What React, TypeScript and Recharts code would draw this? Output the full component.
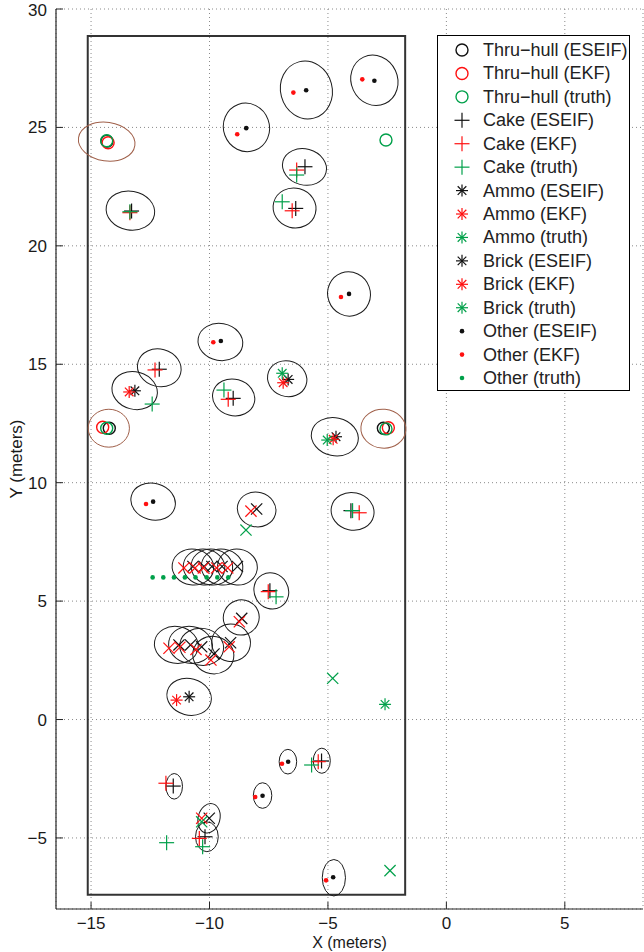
import React from 'react';
import { ScatterChart, Scatter, XAxis, YAxis, CartesianGrid, ReferenceArea } from 'recharts';

// ---------- axes ----------
const X_DOMAIN: [number, number] = [-16.48, 8.3];
const Y_DOMAIN: [number, number] = [-8, 30];
const X_TICKS = [-15, -10, -5, 0, 5];
const Y_TICKS = [-5, 0, 5, 10, 15, 20, 25, 30];
const X_LABEL = 'X (meters)';
const Y_LABEL = 'Y (meters)';

// survey area boundary (meters)
const BOUNDARY = { x1: -15.14, x2: -1.74, y1: -7.4, y2: 28.86 };

// ---------- data ----------
type P = { x: number; y: number };
type E = { x: number; y: number; rx: number; ry: number; a: number };

const thruEseif: P[] = [
  { x: -14.33, y: 24.42 }, { x: -14.23, y: 12.3 }, { x: -2.66, y: 12.3 },
];
const thruEkf: P[] = [
  { x: -14.28, y: 24.35 }, { x: -14.51, y: 12.34 }, { x: -2.45, y: 12.32 },
];
const thruTruth: P[] = [
  { x: -14.34, y: 24.44 }, { x: -14.34, y: 12.3 }, { x: -2.55, y: 12.27 }, { x: -2.55, y: 24.47 },
];

const cakeEseif: P[] = [
  { x: -5.97, y: 23.34 }, { x: -6.36, y: 21.58 }, { x: -13.29, y: 21.47 }, { x: -12.12, y: 14.79 },
  { x: -9.0, y: 13.56 }, { x: -4.03, y: 8.82 }, { x: -7.45, y: 5.44 }, { x: -5.27, y: -1.75 },
  { x: -11.53, y: -2.81 }, { x: -10.19, y: -4.95 },
];
const cakeEkf: P[] = [
  { x: -6.32, y: 23.2 }, { x: -6.51, y: 21.48 }, { x: -13.36, y: 21.4 }, { x: -12.3, y: 14.76 },
  { x: -9.21, y: 13.52 }, { x: -3.68, y: 8.73 }, { x: -7.52, y: 5.4 }, { x: -5.41, y: -1.78 },
  { x: -11.84, y: -2.69 }, { x: -10.43, y: -5.02 },
];
const cakeTruth: P[] = [
  { x: -13.36, y: 21.44 }, { x: -6.32, y: 22.99 }, { x: -6.93, y: 21.86 }, { x: -12.42, y: 13.32 },
  { x: -9.39, y: 13.91 }, { x: -3.96, y: 8.82 }, { x: -7.19, y: 5.18 }, { x: -5.69, y: -1.92 },
  { x: -10.29, y: -5.37 }, { x: -11.81, y: -5.2 },
];

const ammoEseif: P[] = [
  { x: -13.15, y: 13.88 }, { x: -6.68, y: 14.36 }, { x: -4.66, y: 11.94 }, { x: -10.86, y: 0.96 },
];
const ammoEkf: P[] = [
  { x: -13.39, y: 13.83 }, { x: -6.89, y: 14.22 }, { x: -4.78, y: 11.83 }, { x: -11.39, y: 0.82 },
];
const ammoTruth: P[] = [
  { x: -6.93, y: 14.62 }, { x: -5.03, y: 11.8 }, { x: -2.59, y: 0.64 },
];

const brickEseif: P[] = [
  { x: -8.01, y: 8.89 }, { x: -8.64, y: 4.27 }, { x: -10.01, y: -4.17 },
  { x: -10.7, y: 6.46 }, { x: -10.23, y: 6.46 }, { x: -9.9, y: 6.46 }, { x: -9.47, y: 6.46 }, { x: -8.82, y: 6.46 },
  { x: -11.29, y: 3.15 }, { x: -10.8, y: 3.15 }, { x: -10.33, y: 3.07 }, { x: -9.81, y: 2.77 }, { x: -9.11, y: 3.24 },
];
const brickEkf: P[] = [
  { x: -8.25, y: 8.8 }, { x: -8.74, y: 4.13 }, { x: -10.33, y: -4.17 },
  { x: -11.08, y: 6.4 }, { x: -10.61, y: 6.4 }, { x: -10.26, y: 6.4 }, { x: -9.7, y: 6.4 }, { x: -9.23, y: 6.4 },
  { x: -11.71, y: 3.01 }, { x: -11.25, y: 3.05 }, { x: -10.57, y: 2.96 }, { x: -9.94, y: 2.51 }, { x: -9.17, y: 3.07 },
];
const brickTruth: P[] = [
  { x: -8.46, y: 8.0 }, { x: -4.8, y: 1.74 }, { x: -2.38, y: -6.38 }, { x: -10.33, y: -4.32 },
];

const otherEseif: P[] = [
  { x: -3.04, y: 26.97 }, { x: -5.92, y: 26.57 }, { x: -8.45, y: 24.97 }, { x: -4.11, y: 17.97 },
  { x: -9.52, y: 15.98 }, { x: -12.38, y: 9.2 }, { x: -6.68, y: -1.78 }, { x: -7.76, y: -3.22 },
  { x: -4.78, y: -6.66 },
];
const otherEkf: P[] = [
  { x: -3.55, y: 27.03 }, { x: -6.46, y: 26.47 }, { x: -8.83, y: 24.71 }, { x: -4.45, y: 17.84 },
  { x: -9.84, y: 15.93 }, { x: -12.68, y: 9.1 }, { x: -6.94, y: -1.87 }, { x: -8.07, y: -3.27 },
  { x: -5.08, y: -6.79 },
];
const otherTruth: P[] = [
  { x: -12.4, y: 6.0 }, { x: -11.95, y: 6.0 }, { x: -11.5, y: 6.0 }, { x: -11.04, y: 6.0 },
  { x: -10.59, y: 6.0 }, { x: -10.12, y: 6.0 }, { x: -9.67, y: 6.0 }, { x: -9.21, y: 6.0 },
];

// ESEIF covariance ellipses: centre, semi-axes (meters), rotation (deg)
const eseifEllipses: E[] = [
  { x: -3.04, y: 26.99, rx: 0.98, ry: 1.08, a: -25 },
  { x: -5.91, y: 26.58, rx: 1.09, ry: 1.23, a: -15 },
  { x: -8.44, y: 25.0, rx: 0.97, ry: 1.03, a: -20 },
  { x: -5.99, y: 23.33, rx: 0.94, ry: 0.76, a: 15 },
  { x: -6.41, y: 21.6, rx: 0.91, ry: 0.84, a: 15 },
  { x: -13.34, y: 21.49, rx: 1.03, ry: 0.82, a: 10 },
  { x: -4.11, y: 17.97, rx: 0.9, ry: 0.94, a: -20 },
  { x: -9.54, y: 15.94, rx: 0.95, ry: 0.78, a: 10 },
  { x: -12.12, y: 14.85, rx: 0.93, ry: 0.79, a: 15 },
  { x: -13.16, y: 13.89, rx: 0.97, ry: 0.79, a: 15 },
  { x: -8.98, y: 13.6, rx: 0.9, ry: 0.77, a: 15 },
  { x: -6.72, y: 14.39, rx: 0.84, ry: 0.75, a: 20 },
  { x: -4.71, y: 11.94, rx: 1.0, ry: 0.8, a: 12 },
  { x: -12.38, y: 9.2, rx: 0.95, ry: 0.77, a: 15 },
  { x: -8.01, y: 8.87, rx: 0.82, ry: 0.73, a: 15 },
  { x: -3.96, y: 8.79, rx: 0.91, ry: 0.79, a: 12 },
  { x: -10.7, y: 6.44, rx: 0.88, ry: 0.76, a: 8 },
  { x: -10.23, y: 6.44, rx: 0.88, ry: 0.76, a: 8 },
  { x: -9.9, y: 6.44, rx: 0.88, ry: 0.76, a: 8 },
  { x: -9.47, y: 6.44, rx: 0.88, ry: 0.76, a: 8 },
  { x: -8.82, y: 6.44, rx: 0.84, ry: 0.76, a: 8 },
  { x: -11.4, y: 3.15, rx: 0.93, ry: 0.78, a: 10 },
  { x: -10.8, y: 3.15, rx: 0.93, ry: 0.78, a: 10 },
  { x: -10.33, y: 3.07, rx: 0.93, ry: 0.78, a: 10 },
  { x: -9.84, y: 2.72, rx: 0.87, ry: 0.79, a: 10 },
  { x: -9.09, y: 3.24, rx: 0.82, ry: 0.79, a: 10 },
  { x: -10.86, y: 0.96, rx: 0.95, ry: 0.77, a: 15 },
  { x: -7.39, y: 5.43, rx: 0.72, ry: 0.78, a: -30 },
  { x: -8.66, y: 4.31, rx: 0.76, ry: 0.74, a: -20 },
  { x: -6.69, y: -1.78, rx: 0.37, ry: 0.52, a: 0 },
  { x: -5.26, y: -1.74, rx: 0.36, ry: 0.53, a: 0 },
  { x: -7.76, y: -3.21, rx: 0.39, ry: 0.54, a: 0 },
  { x: -11.49, y: -2.82, rx: 0.35, ry: 0.54, a: 0 },
  { x: -10.02, y: -4.17, rx: 0.46, ry: 0.63, a: 15 },
  { x: -10.11, y: -4.95, rx: 0.48, ry: 0.63, a: 0 },
  { x: -4.75, y: -6.68, rx: 0.49, ry: 0.77, a: 0 },
];
// thru-hull covariance ellipses
const thruEllipses: E[] = [
  { x: -14.34, y: 24.4, rx: 1.2, ry: 0.82, a: 8 },
  { x: -14.25, y: 12.3, rx: 0.87, ry: 0.8, a: 0 },
  { x: -2.66, y: 12.28, rx: 0.95, ry: 0.82, a: 5 },
];

// ---------- layout ----------
const W = 644;
const H = 952;
const MARGIN = { top: 9, right: 1, left: 0, bottom: 0 };
const Y_AXIS_W = 56;
const X_AXIS_H = 43;
const PLOT_W = W - MARGIN.left - MARGIN.right - Y_AXIS_W;
const PLOT_H = H - MARGIN.top - MARGIN.bottom - X_AXIS_H;
const KX = PLOT_W / (X_DOMAIN[1] - X_DOMAIN[0]);
const KY = PLOT_H / (Y_DOMAIN[1] - Y_DOMAIN[0]);

const FONT = '"Liberation Sans", Arial, Helvetica, sans-serif';
const FS = 17;
const BLACK = '#111';
const RED = '#ff1010';
const GREEN = '#00a04a';
const BROWN = '#a0604a';
const AXIS = '#262626';

type Kind = 'circle' | 'plus' | 'star' | 'x' | 'dot';

function marker(kind: Kind, color: string, cx: number, cy: number) {
  const sw = 1.2;
  if (kind === 'circle') return <circle cx={cx} cy={cy} r={6} fill="none" stroke={color} strokeWidth={1.4} />;
  if (kind === 'dot') return <circle cx={cx} cy={cy} r={2.3} fill={color} stroke="none" />;
  if (kind === 'plus') {
    const h = 7.5;
    return (
      <g stroke={color} strokeWidth={sw}>
        <line x1={cx - h} y1={cy} x2={cx + h} y2={cy} />
        <line x1={cx} y1={cy - h} x2={cx} y2={cy + h} />
      </g>
    );
  }
  if (kind === 'x') {
    const h = 5.6;
    return (
      <g stroke={color} strokeWidth={sw}>
        <line x1={cx - h} y1={cy - h} x2={cx + h} y2={cy + h} />
        <line x1={cx - h} y1={cy + h} x2={cx + h} y2={cy - h} />
      </g>
    );
  }
  const h = 6;
  const d = 4.3;
  return (
    <g stroke={color} strokeWidth={sw}>
      <line x1={cx - h} y1={cy} x2={cx + h} y2={cy} />
      <line x1={cx} y1={cy - h} x2={cx} y2={cy + h} />
      <line x1={cx - d} y1={cy - d} x2={cx + d} y2={cy + d} />
      <line x1={cx - d} y1={cy + d} x2={cx + d} y2={cy - d} />
    </g>
  );
}

const shapeOf = (kind: Kind, color: string) => (p: any) => marker(kind, color, p.cx, p.cy);

const ellipseShape = (color: string) => (p: any) => {
  const e = p.payload as E;
  return (
    <ellipse
      cx={p.cx}
      cy={p.cy}
      rx={e.rx * KX}
      ry={e.ry * KY}
      transform={`rotate(${e.a} ${p.cx} ${p.cy})`}
      fill="none"
      stroke={color}
      strokeWidth={1}
    />
  );
};

const fmt = (v: number) => (v < 0 ? '\u2212' + Math.abs(v) : String(v));

const legendItems: { label: string; kind: Kind; color: string }[] = [
  { label: 'Thru\u2212hull (ESEIF)', kind: 'circle', color: BLACK },
  { label: 'Thru\u2212hull (EKF)', kind: 'circle', color: RED },
  { label: 'Thru\u2212hull (truth)', kind: 'circle', color: GREEN },
  { label: 'Cake (ESEIF)', kind: 'plus', color: BLACK },
  { label: 'Cake (EKF)', kind: 'plus', color: RED },
  { label: 'Cake (truth)', kind: 'plus', color: GREEN },
  { label: 'Ammo (ESEIF)', kind: 'star', color: BLACK },
  { label: 'Ammo (EKF)', kind: 'star', color: RED },
  { label: 'Ammo (truth)', kind: 'star', color: GREEN },
  { label: 'Brick (ESEIF)', kind: 'star', color: BLACK },
  { label: 'Brick (EKF)', kind: 'star', color: RED },
  { label: 'Brick (truth)', kind: 'star', color: GREEN },
  { label: 'Other (ESEIF)', kind: 'dot', color: BLACK },
  { label: 'Other (EKF)', kind: 'dot', color: RED },
  { label: 'Other (truth)', kind: 'dot', color: GREEN },
];

const LEG = { left: 437, top: 35, width: 193, height: 356, first: 15, step: 23.43, sym: 25, text: 46 };

function LegendBox() {
  return (
    <svg
      width={LEG.width}
      height={LEG.height}
      style={{ position: 'absolute', left: LEG.left, top: LEG.top, overflow: 'visible' }}
    >
      <rect x={0.5} y={0.5} width={LEG.width - 1} height={LEG.height - 1} fill="#fff" stroke="#000" strokeWidth={1} />
      {legendItems.map((it, i) => {
        const cy = LEG.first + i * LEG.step;
        return (
          <g key={it.label}>
            {marker(it.kind, it.color, LEG.sym, cy)}
            <text x={LEG.text} y={cy} dominantBaseline="central" fontFamily={FONT} fontSize={FS + 1} fill="#222">
              {it.label}
            </text>
          </g>
        );
      })}
    </svg>
  );
}

type Series = { name: string; data: P[]; kind: Kind; color: string };
const series: Series[] = [
  { name: 'thruEseif', data: thruEseif, kind: 'circle', color: BLACK },
  { name: 'thruEkf', data: thruEkf, kind: 'circle', color: RED },
  { name: 'thruTruth', data: thruTruth, kind: 'circle', color: GREEN },
  { name: 'cakeEseif', data: cakeEseif, kind: 'plus', color: BLACK },
  { name: 'cakeEkf', data: cakeEkf, kind: 'plus', color: RED },
  { name: 'cakeTruth', data: cakeTruth, kind: 'plus', color: GREEN },
  { name: 'ammoEseif', data: ammoEseif, kind: 'star', color: BLACK },
  { name: 'ammoEkf', data: ammoEkf, kind: 'star', color: RED },
  { name: 'ammoTruth', data: ammoTruth, kind: 'star', color: GREEN },
  { name: 'brickEseif', data: brickEseif, kind: 'x', color: BLACK },
  { name: 'brickEkf', data: brickEkf, kind: 'x', color: RED },
  { name: 'brickTruth', data: brickTruth, kind: 'x', color: GREEN },
  { name: 'otherEseif', data: otherEseif, kind: 'dot', color: BLACK },
  { name: 'otherEkf', data: otherEkf, kind: 'dot', color: RED },
  { name: 'otherTruth', data: otherTruth, kind: 'dot', color: GREEN },
];

const tickStyle = { fontFamily: FONT, fontSize: FS, fill: '#1a1a1a' };

export default function App() {
  return (
    <div style={{ position: 'absolute', left: 0, top: 0, width: W, height: H, background: '#fff' }}>
      <ScatterChart width={W} height={H} margin={MARGIN}>
        <CartesianGrid stroke="#8a8a8a" strokeDasharray="1 3" strokeWidth={1} />
        <XAxis
          xAxisId={0}
          type="number"
          dataKey="x"
          domain={X_DOMAIN}
          ticks={X_TICKS}
          allowDataOverflow
          height={X_AXIS_H}
          tickFormatter={fmt}
          tick={tickStyle}
          tickSize={-7}
          tickMargin={15}
          stroke={AXIS}
          axisLine={{ stroke: AXIS, strokeWidth: 1.2 }}
          tickLine={{ stroke: AXIS }}
          label={(props: any) => {
            const vb = props.viewBox || {};
            return (
              <text x={vb.x + vb.width / 2} y={948} textAnchor="middle" fontFamily={FONT} fontSize={FS - 1} fill="#1a1a1a">
                {X_LABEL}
              </text>
            );
          }}
        />
        <XAxis
          xAxisId="top"
          orientation="top"
          type="number"
          domain={X_DOMAIN}
          ticks={X_TICKS}
          allowDataOverflow
          height={0}
          tick={false}
          tickSize={-7}
          axisLine={{ stroke: AXIS, strokeWidth: 1.2 }}
          tickLine={{ stroke: AXIS }}
        />
        <YAxis
          yAxisId={0}
          type="number"
          dataKey="y"
          domain={Y_DOMAIN}
          ticks={Y_TICKS}
          allowDataOverflow
          width={Y_AXIS_W}
          tickFormatter={fmt}
          tick={tickStyle}
          tickSize={-7}
          tickMargin={16}
          axisLine={{ stroke: AXIS, strokeWidth: 1.2 }}
          tickLine={{ stroke: AXIS }}
          label={(props: any) => {
            const vb = props.viewBox || {};
            const cy = vb.y + vb.height / 2;
            return (
              <text x={22} y={cy} transform={`rotate(-90 22 ${cy})`} textAnchor="middle" fontFamily={FONT} fontSize={FS} fill="#1a1a1a">
                {Y_LABEL}
              </text>
            );
          }}
        />
        <YAxis
          yAxisId="right"
          orientation="right"
          type="number"
          domain={Y_DOMAIN}
          ticks={Y_TICKS}
          allowDataOverflow
          width={0}
          tick={false}
          tickSize={-7}
          axisLine={{ stroke: AXIS, strokeWidth: 1.2 }}
          tickLine={{ stroke: AXIS }}
        />
        <ReferenceArea
          x1={BOUNDARY.x1}
          x2={BOUNDARY.x2}
          y1={BOUNDARY.y1}
          y2={BOUNDARY.y2}
          fill="none"
          fillOpacity={0}
          stroke="#333"
          strokeWidth={2}
          ifOverflow="visible"
        />
        <Scatter data={eseifEllipses} dataKey="y" shape={ellipseShape('#1c1c1c')} isAnimationActive={false} legendType="none" />
        <Scatter data={thruEllipses} dataKey="y" shape={ellipseShape(BROWN)} isAnimationActive={false} legendType="none" />
        {series.map((s) => (
          <Scatter
            key={s.name}
            name={s.name}
            data={s.data}
            dataKey="y"
            shape={shapeOf(s.kind, s.color)}
            isAnimationActive={false}
            legendType="none"
          />
        ))}
      </ScatterChart>
      <LegendBox />
    </div>
  );
}
